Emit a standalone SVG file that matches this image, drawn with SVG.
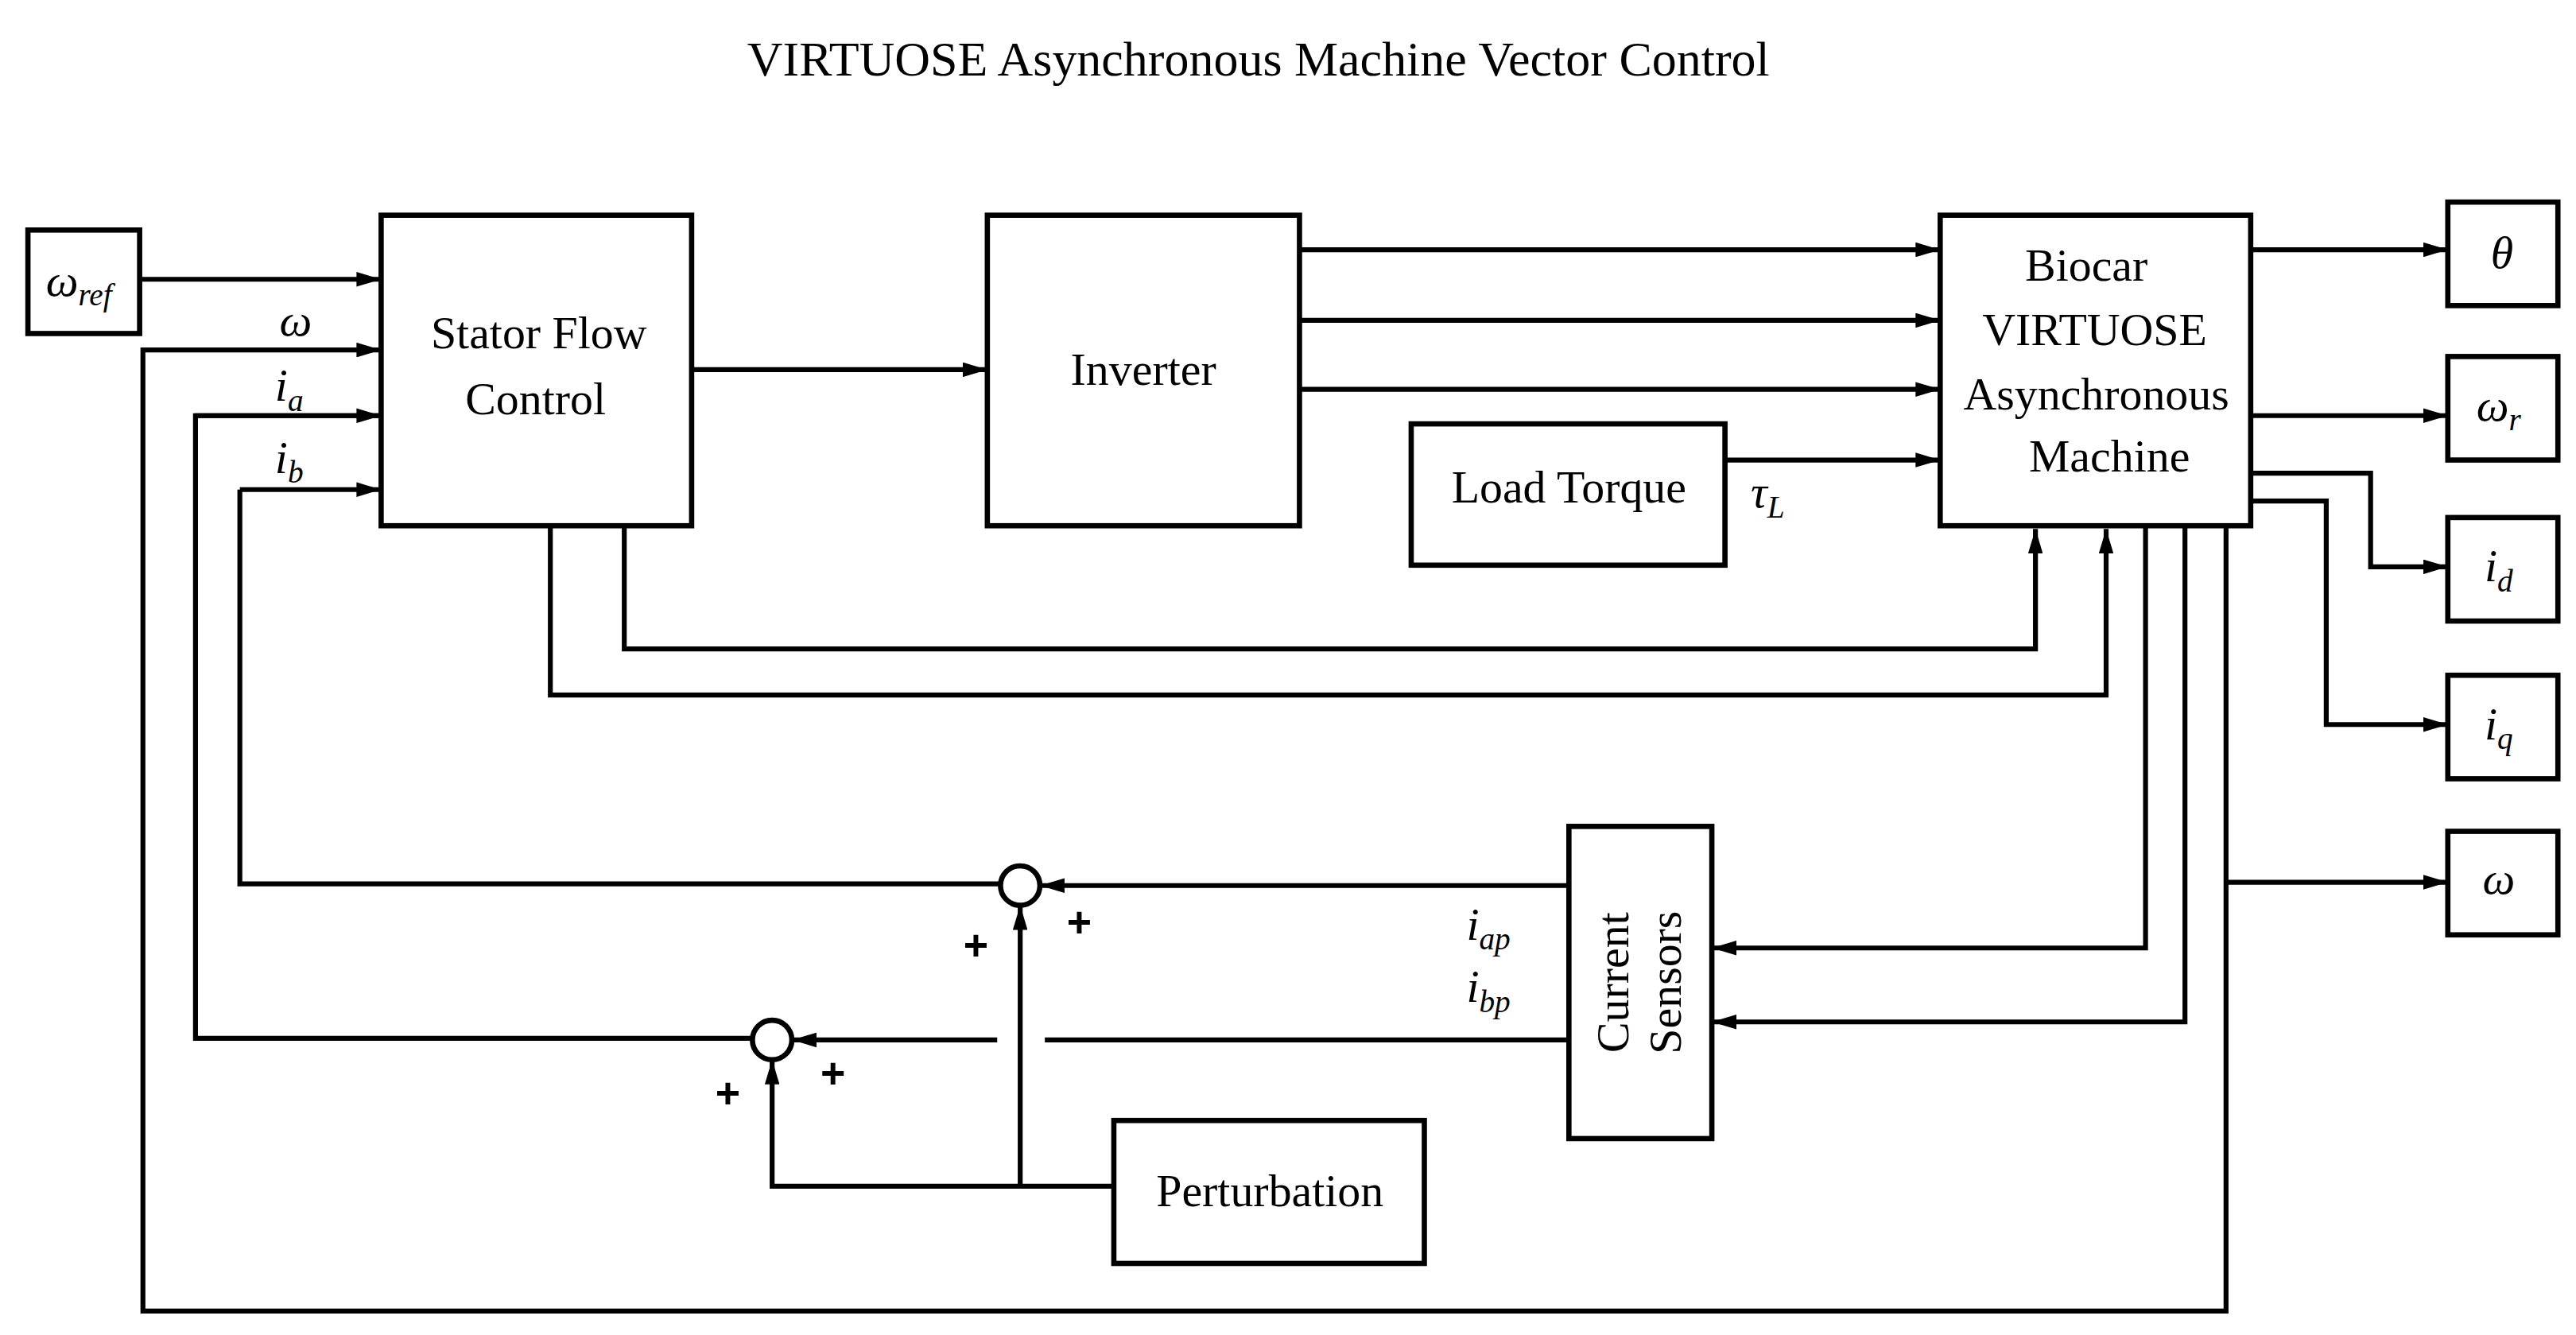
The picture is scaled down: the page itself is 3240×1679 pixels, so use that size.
<svg xmlns="http://www.w3.org/2000/svg" width="3240" height="1679" viewBox="0 0 3240 1679">
<defs>
<marker id="ar" viewBox="0 0 10 6" refX="10" refY="3" markerWidth="5" markerHeight="3" orient="auto" markerUnits="strokeWidth"><path d="M0,0 L10,3 L0,6 z" fill="#000"/></marker>
<style>
.b{fill:#fff;stroke:#000;stroke-width:3.2}
.c path{fill:none;stroke:#000;stroke-width:3}
.a{marker-end:url(#ar)}
.t{font-family:"Liberation Serif",serif;font-size:28px;fill:#000;text-anchor:middle}
.m{font-family:"Liberation Serif",serif;font-style:italic;font-size:28px;fill:#000;text-anchor:middle}
.s{font-size:19px}
.p{font-family:"Liberation Sans",sans-serif;font-weight:bold;font-size:26px;fill:#000;text-anchor:middle}
</style>
</defs>
<rect width="3240" height="1679" fill="#fff"/>
<g transform="scale(2.0663)">
<text x="766" y="46" class="t" style="font-size:30px">VIRTUOSE Asynchronous Machine Vector Control</text>
<g class="c" id="connectors">
<path class="a" d="M85,170 H232"/>
<path class="a" d="M1355,320 V798 H87 V213 H232"/>
<path class="a" d="M1355,537 H1490"/>
<path class="a" d="M458,632 H119 V253 H232" style="marker-end:none"/>
<path class="a" d="M119,253 H232"/>
<path d="M609,538 H146 V298"/>
<path class="a" d="M146,298 H232"/>
<path class="a" d="M421,225 H601"/>
<path class="a" d="M791,152 H1181"/>
<path class="a" d="M791,195 H1181"/>
<path class="a" d="M791,237 H1181"/>
<path class="a" d="M1050,280 H1181"/>
<path class="a" d="M380,320 V395 H1239 V322"/>
<path class="a" d="M335,320 V423 H1282 V322"/>
<path class="a" d="M1370,152 H1490"/>
<path class="a" d="M1370,253 H1490"/>
<path class="a" d="M1370,288 H1443 V345 H1490"/>
<path class="a" d="M1370,305 H1416 V441 H1490"/>
<path class="a" d="M1306,320 V577 H1042"/>
<path class="a" d="M1330,320 V622 H1042"/>
<path class="a" d="M955,539 H633"/>
<path d="M955,633 H636"/>
<path class="a" d="M607,633 H482"/>
<path class="a" d="M678,722 H470 V645"/>
<path class="a" d="M621,722 V551"/>
</g>
<g id="wref"><rect class="b" x="17" y="140" width="68" height="63"/><text x="48" y="180" class="m">ω<tspan class="s" dy="6">ref</tspan></text></g>
<g id="stator"><rect class="b" x="232" y="131" width="189" height="189"/><text x="328" y="212" class="t">Stator Flow</text><text x="326" y="252" class="t">Control</text></g>
<g id="inverter"><rect class="b" x="601" y="131" width="190" height="189"/><text x="696" y="234" class="t">Inverter</text></g>
<g id="load"><rect class="b" x="859" y="258" width="191" height="86"/><text x="955" y="306" class="t">Load Torque</text></g>
<g id="machine"><rect class="b" x="1181" y="131" width="189" height="189"/><text x="1270" y="171" class="t">Biocar</text><text x="1275" y="210" class="t">VIRTUOSE</text><text x="1276" y="249" class="t">Asynchronous</text><text x="1284" y="287" class="t">Machine</text></g>
<g id="theta"><rect class="b" x="1490" y="123" width="67" height="63"/><text x="1523" y="163" class="m">θ</text></g>
<g id="wr"><rect class="b" x="1490" y="217" width="67" height="63"/><text x="1521" y="256" class="m">ω<tspan class="s" dy="6">r</tspan></text></g>
<g id="id"><rect class="b" x="1490" y="315" width="67" height="63"/><text x="1521" y="354" class="m">i<tspan class="s" dy="6">d</tspan></text></g>
<g id="iq"><rect class="b" x="1490" y="411" width="67" height="63"/><text x="1521" y="450" class="m">i<tspan class="s" dy="6">q</tspan></text></g>
<g id="w"><rect class="b" x="1490" y="506" width="67" height="63"/><text x="1521" y="544" class="m">ω</text></g>
<g id="sensors"><rect class="b" x="955" y="503" width="87" height="190"/><g transform="translate(998,598) rotate(-90)"><text x="0" y="-7" class="t">Current</text><text x="0" y="25" class="t">Sensors</text></g></g>
<g id="perturbation"><rect class="b" x="678" y="682" width="189" height="87"/><text x="773" y="734" class="t">Perturbation</text></g>
<g id="sum1"><circle class="b" cx="621" cy="539" r="12"/><text x="594" y="584" class="p">+</text><text x="657" y="570" class="p">+</text></g>
<g id="sum2"><circle class="b" cx="470" cy="633" r="12"/><text x="443" y="674" class="p">+</text><text x="507" y="662" class="p">+</text></g>
<text x="180" y="204" class="m">ω</text>
<text x="176" y="244" class="m">i<tspan class="s" dy="6">a</tspan></text>
<text x="176" y="288" class="m">i<tspan class="s" dy="6">b</tspan></text>
<text x="1076" y="309" class="m">τ<tspan class="s" dy="6">L</tspan></text>
<text x="906" y="572" class="m">i<tspan class="s" dy="6">ap</tspan></text>
<text x="906" y="610" class="m">i<tspan class="s" dy="6">bp</tspan></text>
</g>
</svg>
